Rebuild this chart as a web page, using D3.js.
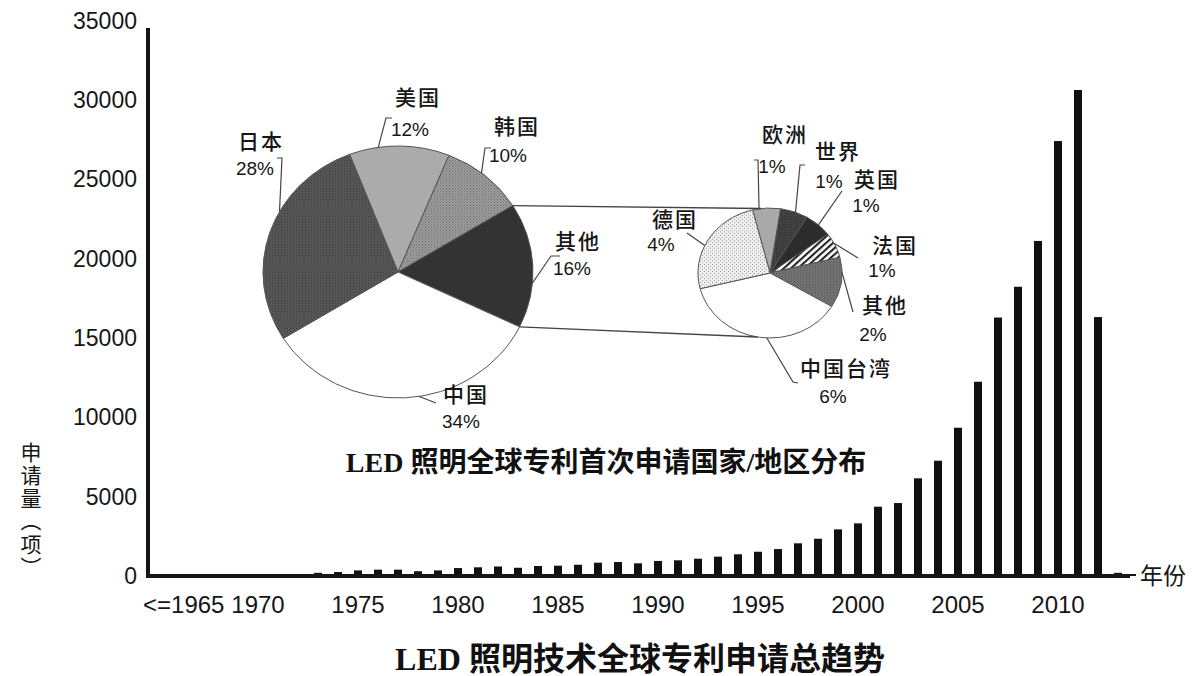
<!DOCTYPE html>
<html>
<head>
<meta charset="utf-8">
<script src="https://cdn.jsdelivr.net/npm/d3@7"></script>
<style>
  html, body { margin: 0; padding: 0; background: #fff; }
  svg { display: block; }
</style>
</head>
<body>
<svg id="chart"></svg>
<script>
// bar chart data (applications per year)
const years = ['<=1965', '1966', '1967', '1968', '1969', '1970', '1971', '1972',
  '1973', '1974', '1975', '1976', '1977', '1978', '1979', '1980', '1981', '1982',
  '1983', '1984', '1985', '1986', '1987', '1988', '1989', '1990', '1991', '1992',
  '1993', '1994', '1995', '1996', '1997', '1998', '1999', '2000', '2001', '2002',
  '2003', '2004', '2005', '2006', '2007', '2008', '2009', '2010', '2011', '2012', '2013'];
const applications = [0, 0, 0, 0, 0, 0, 0, 0,
  200, 250, 350, 400, 400, 300, 350, 500, 550, 600,
  520, 630, 650, 710, 840, 880, 800, 950, 990, 1090,
  1220, 1370, 1530, 1700, 2060, 2350, 2940, 3320, 4370, 4600,
  6160, 7270, 9350, 12250, 16300, 18240, 21130, 27430, 30650, 16330, 200];
const xTickLabels = ['<=1965', '1970', '1975', '1980', '1985', '1990', '1995', '2000', '2005', '2010'];
const yTicks = [0, 5000, 10000, 15000, 20000, 25000, 30000, 35000];

// first filing country / region shares (%)
const bigPieNames = ['美国', '韩国', '其他', '中国', '日本'];
const bigPieShares = [12, 10, 16, 34, 28];
const smallPieNames = ['欧洲', '世界', '英国', '法国', '其他', '中国台湾', '德国'];
const smallPieShares = [1, 1, 1, 1, 2, 6, 4];

const yAxisTitle = '申请量（项）';
const xAxisTitle = '年份';
const pieTitle = 'LED 照明全球专利首次申请国家/地区分布';
const chartTitle = 'LED 照明技术全球专利申请总趋势';

const WIDTH = 1195;
const HEIGHT = 676;
const BASE_Y = 576;
const AXIS_X = 148;
const INK = '#161616';
const CJK = '"Noto Sans CJK SC", sans-serif';
const NUM = '"Liberation Sans", Arial, sans-serif';
const TITLE_FONT = '"Liberation Serif", "Noto Sans CJK SC", serif';

const svg = d3.select('#chart')
  .attr('width', WIDTH)
  .attr('height', HEIGHT)
  .attr('viewBox', `0 0 ${WIDTH} ${HEIGHT}`);

svg.append('rect').attr('width', WIDTH).attr('height', HEIGHT).attr('fill', '#fff');

// ---- patterns for the pie slices ----
const defs = svg.append('defs');
function dotPattern(id, bg, dot, size) {
  const p = defs.append('pattern').attr('id', id).attr('patternUnits', 'userSpaceOnUse')
    .attr('width', size).attr('height', size);
  p.append('rect').attr('width', size).attr('height', size).attr('fill', bg);
  p.append('rect').attr('width', 1).attr('height', 1).attr('fill', dot);
  p.append('rect').attr('x', size / 2).attr('y', size / 2).attr('width', 1).attr('height', 1).attr('fill', dot);
}
dotPattern('japan', '#5e5e5e', '#2a2a2a', 3);
dotPattern('korea', '#a2a2a2', '#5c5c5c', 3);
dotPattern('world', '#474747', '#222', 3);
dotPattern('otherSmall', '#7c7c7c', '#3c3c3c', 3);
dotPattern('germany', '#f0f0f0', '#8a8a8a', 4);
const stripes = defs.append('pattern').attr('id', 'france').attr('patternUnits', 'userSpaceOnUse')
  .attr('width', 5).attr('height', 5).attr('patternTransform', 'rotate(45)');
stripes.append('rect').attr('width', 5).attr('height', 5).attr('fill', '#fff');
stripes.append('rect').attr('width', 2.2).attr('height', 5).attr('fill', '#222');

const bigFills = { 美国: '#ababab', 韩国: 'url(#korea)', 其他: '#333', 中国: '#fff', 日本: 'url(#japan)' };
const smallFills = {
  欧洲: '#a9a9a9', 世界: 'url(#world)', 英国: '#2c2c2c', 法国: 'url(#france)',
  其他: 'url(#otherSmall)', 中国台湾: '#fff', 德国: 'url(#germany)',
};

// ---- bar chart ----
const x = d3.scaleBand()
  .domain(years)
  .range([AXIS_X, 1128])
  .paddingInner(0.6)
  .paddingOuter(0.3);

const y = d3.scaleLinear()
  .domain([0, 35000])
  .range([BASE_Y, 21]);

const barData = years.map((year, i) => ({ year, value: applications[i] }));

svg.append('g').selectAll('rect')
  .data(barData)
  .enter()
  .append('rect')
  .attr('x', d => x(d.year))
  .attr('y', d => y(d.value))
  .attr('width', x.bandwidth())
  .attr('height', d => BASE_Y - y(d.value))
  .attr('fill', '#111');

// axis lines
svg.append('line')
  .attr('x1', AXIS_X).attr('x2', AXIS_X)
  .attr('y1', y(35000) + 7).attr('y2', BASE_Y + 2)
  .attr('stroke', INK).attr('stroke-width', 4);
svg.append('line')
  .attr('x1', AXIS_X - 2).attr('x2', 1130)
  .attr('y1', BASE_Y).attr('y2', BASE_Y)
  .attr('stroke', INK).attr('stroke-width', 4);
svg.append('line')
  .attr('x1', 1128).attr('x2', 1136)
  .attr('y1', BASE_Y - 1).attr('y2', BASE_Y - 1)
  .attr('stroke', INK).attr('stroke-width', 2);

const yAxis = svg.append('g')
  .attr('transform', `translate(${AXIS_X},0)`)
  .call(d3.axisLeft(y).tickValues(yTicks).tickFormat(d3.format('d')).tickSize(0).tickPadding(11));
yAxis.select('.domain').remove();
yAxis.selectAll('text')
  .attr('font-family', NUM).attr('font-size', 23).attr('fill', INK);

const xAxis = svg.append('g')
  .attr('transform', `translate(0,${BASE_Y})`)
  .call(d3.axisBottom(x).tickValues(xTickLabels).tickSize(0).tickPadding(20));
xAxis.select('.domain').remove();
xAxis.selectAll('text')
  .attr('font-family', NUM).attr('font-size', 24).attr('fill', INK)
  .attr('x', d => (d === '<=1965' ? -15 : 0))
  .attr('text-anchor', d => (d === '<=1965' ? 'start' : 'middle'));

svg.append('text')
  .attr('x', 1140).attr('y', BASE_Y + 8)
  .attr('font-family', CJK).attr('font-size', 23).attr('fill', INK)
  .text(xAxisTitle);

// vertical axis title, one character per row, brackets turned for vertical text
const yTitle = svg.append('g').attr('transform', 'translate(31,452)');
Array.from(yAxisTitle).forEach((ch, i) => {
  const isBracket = ch === '（' || ch === '）';
  yTitle.append('text')
    .attr('transform', `translate(0,${i * 23}) rotate(${isBracket ? 90 : 0})`)
    .attr('dy', '0.36em').attr('text-anchor', 'middle')
    .attr('font-family', CJK).attr('font-size', 21).attr('fill', INK)
    .text(ch);
});

// ---- pies ----
const rad = deg => deg * Math.PI / 180;

function drawPie(cfg) {
  const data = cfg.names.map((name, i) => ({ name, value: cfg.values[i] }));
  const arcs = d3.pie().sort(null).value(d => d.value)
    .startAngle(rad(cfg.start)).endAngle(rad(cfg.start + 360))(data);
  const arc = d3.arc().innerRadius(0).outerRadius(cfg.rx);
  const ky = cfg.ry / cfg.rx;
  const g = svg.append('g')
    .attr('transform', `translate(${cfg.cx},${cfg.cy}) scale(1,${ky})`);
  g.selectAll('path')
    .data(arcs)
    .enter()
    .append('path')
    .attr('d', arc)
    .attr('fill', d => cfg.fills[d.data.name])
    .attr('stroke', '#555')
    .attr('stroke-width', 1)
    .attr('vector-effect', 'non-scaling-stroke');
  const edge = a => [cfg.cx + cfg.rx * Math.sin(a), cfg.cy - cfg.ry * Math.cos(a)];
  return { arcs, edge };
}

const big = drawPie({
  names: bigPieNames, values: bigPieShares, fills: bigFills,
  cx: 398, cy: 272, rx: 135, ry: 126, start: -21,
});
const small = drawPie({
  names: smallPieNames, values: smallPieShares, fills: smallFills,
  cx: 770, cy: 273, rx: 72, ry: 65, start: -14,
});

// connector lines from the "其他" slice to the breakdown pie
const otherSlice = big.arcs.find(d => d.data.name === '其他');
const connectors = [
  [big.edge(otherSlice.startAngle), small.edge(rad(-7))],
  [big.edge(otherSlice.endAngle), small.edge(rad(190))],
];
svg.append('g').selectAll('line')
  .data(connectors)
  .enter()
  .append('line')
  .attr('x1', d => d[0][0]).attr('y1', d => d[0][1])
  .attr('x2', d => d[1][0]).attr('y2', d => d[1][1])
  .attr('stroke', '#444').attr('stroke-width', 1.3);

// label layout: name / percent centres, leader start, leader angle shift from slice middle
const BIG_LABELS = {
  美国: { name: [418, 97], pct: [410, 129], lead: [[392, 118], [386, 118]], shift: -9 },
  韩国: { name: [517, 126], pct: [508, 155], lead: [[491, 148], [485, 148]], shift: -2 },
  其他: { name: [578, 241], pct: [572, 268], lead: [[560, 256], [551, 256]], shift: 8 },
  中国: { name: [466, 394], pct: [461, 421], lead: [[436, 403]], shift: -6 },
  日本: { name: [261, 141], pct: [255, 168], lead: [[277, 158], [282, 158]], shift: 10 },
};
const SMALL_LABELS = {
  欧洲: { name: [785, 134], pct: [772, 166], lead: [[754, 160], [758, 160]], shift: -6 },
  世界: { name: [838, 151], pct: [829, 181], lead: [[805, 165], [800, 165]], shift: 1 },
  英国: { name: [877, 179], pct: [866, 205], lead: [[842, 191]], shift: 0 },
  法国: { name: [895, 245], pct: [882, 270], lead: [[858, 258]], shift: -2 },
  其他: { name: [885, 305], pct: [873, 334], lead: [[853, 312]], shift: -9 },
  中国台湾: { name: [846, 368], pct: [833, 396], lead: [[798, 383], [793, 382]], shift: -6 },
  德国: { name: [675, 219], pct: [661, 244], lead: [[687, 233]], shift: -6 },
};

function drawLabels(pie, layout) {
  pie.arcs.forEach(d => {
    const l = layout[d.data.name];
    const mid = (d.startAngle + d.endAngle) / 2 + rad(l.shift);
    const pts = l.lead.concat([pie.edge(mid)]);
    svg.append('path')
      .attr('d', d3.line()(pts))
      .attr('fill', 'none').attr('stroke', '#444').attr('stroke-width', 1.2);
    svg.append('text')
      .attr('x', l.name[0]).attr('y', l.name[1])
      .attr('dy', '0.36em').attr('text-anchor', 'middle')
      .attr('font-family', CJK).attr('font-size', 21).attr('font-weight', 500)
      .attr('letter-spacing', 2).attr('fill', INK)
      .text(d.data.name);
    svg.append('text')
      .attr('x', l.pct[0]).attr('y', l.pct[1])
      .attr('dy', '0.36em').attr('text-anchor', 'middle')
      .attr('font-family', NUM).attr('font-size', 19).attr('fill', INK)
      .text(`${d.data.value}%`);
  });
}
drawLabels(big, BIG_LABELS);
drawLabels(small, SMALL_LABELS);

// titles
svg.append('text')
  .attr('x', 606).attr('y', 462)
  .attr('dy', '0.36em').attr('text-anchor', 'middle')
  .attr('font-family', TITLE_FONT).attr('font-size', 28).attr('font-weight', 700)
  .attr('fill', '#111')
  .text(pieTitle);

svg.append('text')
  .attr('x', 640).attr('y', 658)
  .attr('dy', '0.36em').attr('text-anchor', 'middle')
  .attr('font-family', TITLE_FONT).attr('font-size', 32).attr('font-weight', 700)
  .attr('fill', '#111')
  .text(chartTitle);
</script>
</body>
</html>
